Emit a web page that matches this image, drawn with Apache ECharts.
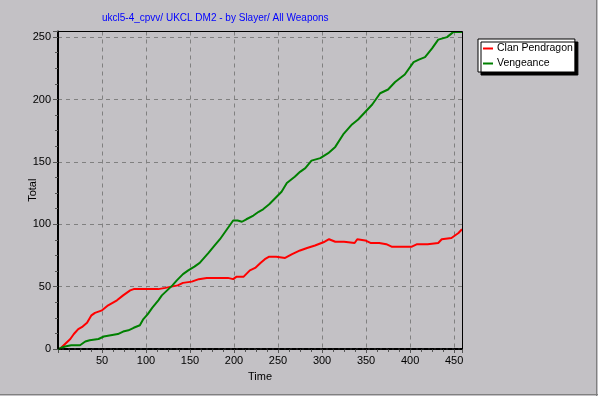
<!DOCTYPE html>
<html><head><meta charset="utf-8">
<script src="https://cdn.jsdelivr.net/npm/echarts@6/dist/echarts.min.js"></script>
<style>html,body{margin:0;padding:0;background:#c3c1c5;}#c{width:598px;height:396px;}</style>
</head><body><div id="c"></div>
<script>
const titleText = 'ukcl5-4_cpvv/ UKCL DM2 - by Slayer/ All Weapons';
const seriesNames = ['Clan Pendragon', 'Vengeance'];
const xTicks = [50, 100, 150, 200, 250, 300, 350, 400, 450];
const yTicks = [0, 50, 100, 150, 200, 250];
const redTime = [2,8,14,18,23,28,33,38,42,46,50,57,62,67,74,82,86,95,105,114,122,129,136,142,152,160,169,180,193,199,203,211,218,224,230,235,240,248,258,266,275,283,292,303,308,315,325,337,340,349,355,365,373,379,390,402,408,420,432,436,447,455,459];
const redVal = [0,4,8,12,16,18,21,27,29,30,31,35,37,39,43,47,48,48,48,48,49,50,51,53,54,56,57,57,57,56,58,58,63,65,69,72,74,74,73,76,79,81,83,86,88,86,86,85,88,87,85,85,84,82,82,82,84,84,85,88,89,93,96];
const greenTime = [0,2,8,15,25,31,36,46,52,60,68,74,80,86,93,97,102,107,114,118,124,130,135,142,148,155,161,171,178,184,190,199,204,209,214,222,228,233,240,247,254,260,269,275,281,288,298,307,315,324,334,341,349,357,366,375,383,394,404,410,417,425,432,442,449,455,459];
const greenVal = [0,0,2,3,3,6,7,8,10,11,12,14,15,17,19,24,28,33,39,43,47,51,55,60,63,66,69,77,83,88,94,103,103,102,104,107,110,112,116,121,126,133,138,142,145,151,153,157,162,172,180,184,190,196,205,208,214,220,230,232,234,241,248,250,254,254,254];

const toPairs = (xs, ys) => xs.map((x, i) => [x, ys[i]]);
const chart = echarts.init(document.getElementById('c'), null, {renderer: 'canvas'});
const font = 'Liberation Sans, Arial, sans-serif';
const G = {l: 58, r: 462, t: 31.5, b: 349};
chart.setOption({
  animation: false,
  backgroundColor: '#c3c1c5',
  title: {
    text: titleText, left: 102, top: 13, padding: 0,
    textStyle: {color: '#0000ff', fontSize: 10, fontWeight: 'normal', fontFamily: font}
  },
  legend: {
    orient: 'vertical', left: 478, top: 39,
    padding: [4, 2, 3, 5], itemGap: 4,
    backgroundColor: '#ffffff', borderColor: '#000', borderWidth: 1,
    shadowColor: '#000', shadowOffsetX: 3, shadowOffsetY: 3, shadowBlur: 0,
    icon: 'rect', itemWidth: 10, itemHeight: 2,
    textStyle: {fontSize: 10.5, fontFamily: font, color: '#000', padding: [0, 0, 0, -1]},
    data: seriesNames
  },
  grid: {left: G.l, right: 598 - G.r, top: G.t, bottom: 396 - G.b, show: false},
  xAxis: {
    type: 'value', min: 0, max: 459, interval: 50,
    name: 'Time', nameLocation: 'middle', nameGap: 22, nameMoveOverlap: false,
    nameTextStyle: {fontSize: 11, fontFamily: font, color: '#000'},
    axisLine: {show: true, lineStyle: {color: '#000', width: 2, type: [4, 2]}},
    axisTick: {show: true, length: 4, lineStyle: {color: '#555'}},
    minorTick: {show: true, splitNumber: 4, length: 3, lineStyle: {color: '#555'}},
    axisLabel: {fontSize: 11, fontFamily: font, color: '#000', margin: 6, showMaxLabel: false,
      formatter: v => xTicks.includes(v) ? String(v) : ''},
    splitLine: {show: true, lineStyle: {color: '#808080', type: [4, 4], width: 1}}
  },
  yAxis: {
    type: 'value', min: 0, max: 254.5, interval: 50,
    name: 'Total', nameLocation: 'middle', nameGap: 20, nameRotate: 90, nameMoveOverlap: false,
    nameTextStyle: {fontSize: 11, fontFamily: font, color: '#000'},
    axisLine: {show: true, lineStyle: {color: '#000', width: 2}},
    axisTick: {show: true, length: 5, lineStyle: {color: '#555'}},
    minorTick: {show: true, splitNumber: 4, length: 3, lineStyle: {color: '#555'}},
    axisLabel: {fontSize: 11, fontFamily: font, color: '#000', margin: 7, showMaxLabel: false,
      formatter: v => yTicks.includes(v) ? String(v) : ''},
    splitLine: {show: true, lineStyle: {color: '#808080', type: [4, 4], width: 1}}
  },
  series: [
    {name: seriesNames[0], type: 'line', data: toPairs(redTime, redVal), showSymbol: false,
     lineStyle: {color: '#ff0000', width: 2}, itemStyle: {color: '#ff0000'}},
    {name: seriesNames[1], type: 'line', data: toPairs(greenTime, greenVal), showSymbol: false,
     lineStyle: {color: '#008000', width: 2}, itemStyle: {color: '#008000'}}
  ],
  graphic: [
    {type: 'rect', z: 100, silent: true,
     shape: {x: G.l + 0.5, y: G.t, width: G.r - G.l, height: G.b - G.t},
     style: {fill: 'none', stroke: '#000', lineWidth: 1}},
    {type: 'line', shape: {x1: 0, y1: 394.5, x2: 598, y2: 394.5}, style: {stroke: '#808080', lineWidth: 1}},
    {type: 'line', shape: {x1: 596.5, y1: 0, x2: 596.5, y2: 396}, style: {stroke: '#808080', lineWidth: 1}}
  ]
});
</script></body></html>
